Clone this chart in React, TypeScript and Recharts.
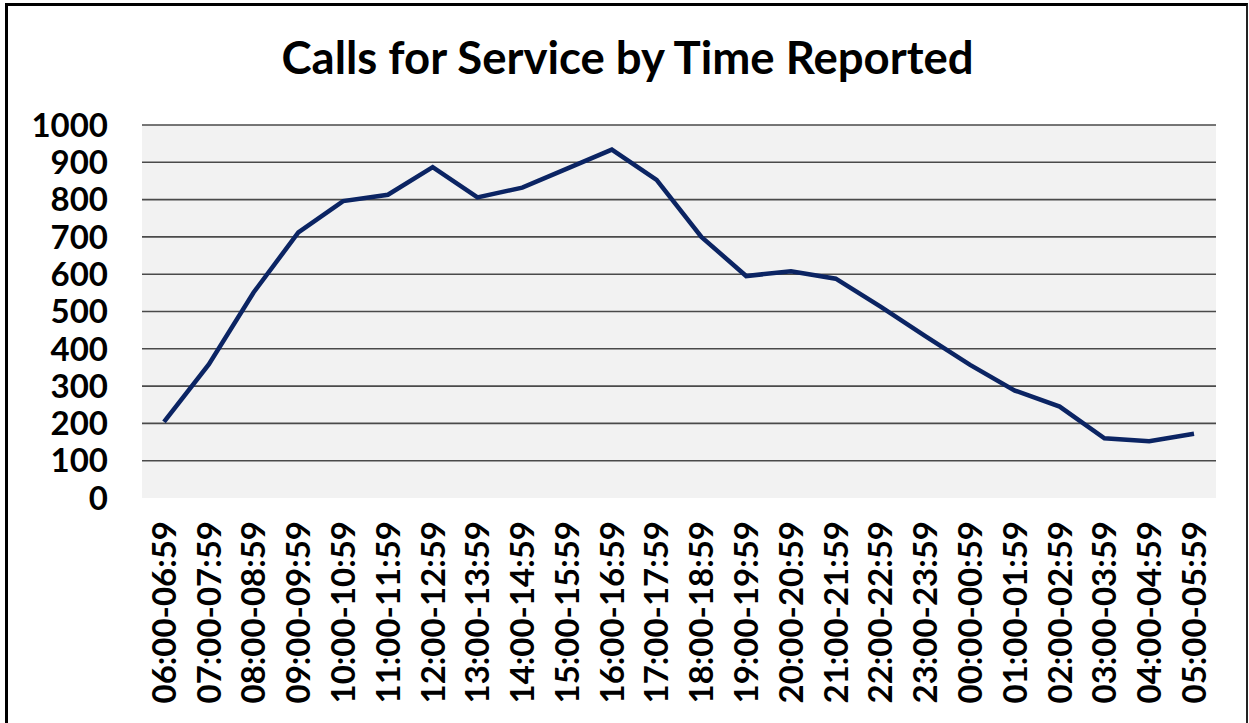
import React from "react";
import { LineChart, Line, XAxis, YAxis, CartesianGrid, ReferenceLine } from "recharts";

const categories = [
  "06:00-06:59", "07:00-07:59", "08:00-08:59", "09:00-09:59", "10:00-10:59", "11:00-11:59",
  "12:00-12:59", "13:00-13:59", "14:00-14:59", "15:00-15:59", "16:00-16:59", "17:00-17:59",
  "18:00-18:59", "19:00-19:59", "20:00-20:59", "21:00-21:59", "22:00-22:59", "23:00-23:59",
  "00:00-00:59", "01:00-01:59", "02:00-02:59", "03:00-03:59", "04:00-04:59", "05:00-05:59",
];
const calls = [
  204, 358, 551, 712, 796, 813, 887, 806, 832, 883, 934, 853,
  700, 595, 608, 588, 513, 434, 357, 288, 245, 160, 152, 172,
];
const yTicks = [0, 100, 200, 300, 400, 500, 600, 700, 800, 900, 1000];
const title = "Calls for Service by Time Reported";

const data = categories.map((c, i) => ({ name: c, calls: calls[i] }));

const FONT = "Lato, 'Open Sans', sans-serif";

const XTick = (props: any) => {
  const { x, y, payload } = props;
  return (
    <g transform={`translate(${x},${y})`}>
      <text
        transform="rotate(-90)"
        textAnchor="end"
        dy="0.36em"
        fontFamily={FONT}
        fontWeight={700}
        fontSize={33}
        fill="#000"
      >
        {payload.value}
      </text>
    </g>
  );
};

export default function App() {
  return (
    <div
      style={{
        position: "absolute",
        left: 0,
        top: 0,
        width: 1249,
        height: 723,
        background: "#fff",
        overflow: "hidden",
      }}
    >
      <div
        style={{
          position: "absolute",
          left: 5,
          top: 3,
          width: 1238,
          height: 730,
          borderLeft: "3px solid #000",
          borderTop: "3px solid #000",
          borderRight: "2px solid #222",
        }}
      />
      <div
        style={{
          position: "absolute",
          left: 0,
          top: 27,
          width: 1255,
          textAlign: "center",
          fontFamily: FONT,
          fontWeight: 700,
          fontSize: 45.5,
          color: "#000",
          lineHeight: "60px",
        }}
      >
        {title}
      </div>
      <div style={{ position: "absolute", left: 0, top: 0 }}>
        <LineChart
          width={1249}
          height={723}
          data={data}
          margin={{ top: 125, right: 33, bottom: 0, left: 0 }}
        >
          <CartesianGrid fill="#f2f2f2" horizontal={false} vertical={false} />
          {yTicks
            .filter((t) => t > 0)
            .map((t) => (
              <ReferenceLine key={t} y={t} stroke="#4a4a4a" strokeWidth={1.6} ifOverflow="extendDomain" />
            ))}
          <XAxis
            dataKey="name"
            interval={0}
            axisLine={false}
            tickLine={false}
            tickSize={0}
            tickMargin={23}
            height={225}
            padding={{ left: 22, right: 22 }}
            tick={<XTick />}
          />
          <YAxis
            domain={[0, 1000]}
            ticks={yTicks}
            interval={0}
            width={142}
            axisLine={false}
            tickLine={false}
            tickSize={0}
            tickMargin={34}
            tick={{ fontFamily: FONT, fontWeight: 700, fontSize: 33, fill: "#000" }}
          />
          <Line
            type="linear"
            dataKey="calls"
            stroke="#0b2463"
            strokeWidth={4.5}
            dot={false}
            activeDot={false}
            isAnimationActive={false}
          />
        </LineChart>
      </div>
    </div>
  );
}
